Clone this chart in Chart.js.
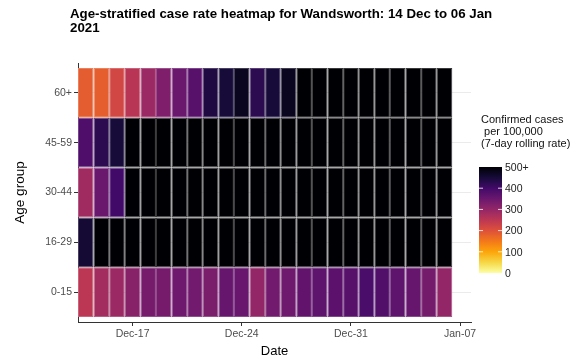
<!DOCTYPE html>
<html>
<head>
<meta charset="utf-8">
<script src="https://cdn.jsdelivr.net/npm/chart.js@4.4.1/dist/chart.umd.min.js"></script>
<style>
  body { margin: 0; background: #fff; }
  #wrap { width: 586px; height: 362px; }
</style>
</head>
<body>
<div id="wrap"><canvas id="heat" width="586" height="362"></canvas></div>
<script>
// days shown, one tile per day
var dates = ['14 Dec','15 Dec','16 Dec','17 Dec','18 Dec','19 Dec','20 Dec','21 Dec','22 Dec','23 Dec','24 Dec','25 Dec',
             '26 Dec','27 Dec','28 Dec','29 Dec','30 Dec','31 Dec','01 Jan','02 Jan','03 Jan','04 Jan','05 Jan','06 Jan'];
var ageGroups = ['0-15', '16-29', '30-44', '45-59', '60+'];
var xTickLabels = ['Dec-17', 'Dec-24', 'Dec-31', 'Jan-07'];
var xTickDays = [3, 10, 17, 24];   // days after 14 Dec
var legendBreaks = [0, 100, 200, 300, 400, 500];
var legendLabels = ['0', '100', '200', '300', '400', '500+'];

// confirmed cases per 100,000, 7-day rolling rate (500 = 500+)
var rate0to15  = [250, 280, 290, 315, 335, 335, 345, 340, 330, 355, 352, 300,
                  340, 345, 360, 365, 368, 372, 390, 380, 365, 355, 338, 300];
var rate16to29 = [455, 500, 500, 500, 500, 500, 500, 500, 500, 500, 500, 500,
                  500, 500, 500, 500, 500, 500, 500, 500, 500, 500, 500, 500];
var rate30to44 = [285, 350, 400, 500, 500, 500, 500, 500, 500, 500, 500, 500,
                  500, 500, 500, 500, 500, 500, 500, 500, 500, 500, 500, 500];
var rate45to59 = [385, 425, 450, 500, 500, 500, 500, 500, 500, 500, 500, 500,
                  500, 500, 500, 500, 500, 500, 500, 500, 500, 500, 500, 500];
var rate60plus = [185, 182, 220, 255, 290, 325, 350, 372, 440, 450, 475, 425,
                  450, 475, 500, 500, 500, 500, 500, 500, 500, 500, 500, 500];

var rows = [rate0to15, rate16to29, rate30to44, rate45to59, rate60plus];

// inferno palette, reversed so that 0 is pale yellow and 500+ is black
var infernoStops = ['#000004','#160b39','#420a68','#6a176e','#932667','#bc3754',
                    '#dd513a','#f37819','#fca50a','#f6d746','#fcffa4'];

function hexRgb(h) {
  return [parseInt(h.substr(1,2),16), parseInt(h.substr(3,2),16), parseInt(h.substr(5,2),16)];
}
function rateRgb(v) {
  var t = 1 - Math.min(Math.max(v, 0), 500) / 500;
  var p = t * 10;
  var i = Math.min(Math.floor(p), 9);
  var f = p - i;
  var a = hexRgb(infernoStops[i]), b = hexRgb(infernoStops[i + 1]);
  return a.map(function (x, k) { return x + (b[k] - x) * f; });
}
function rateColour(v) {
  return 'rgb(' + rateRgb(v).map(Math.round).join(',') + ')';
}
// tile outline: tile colour washed with white
function edgeColour(v) {
  return 'rgb(' + rateRgb(v).map(function (x) { return Math.round(x + (255 - x) * 0.22); }).join(',') + ')';
}

var cells = [];
rows.forEach(function (arr, r) {
  arr.forEach(function (v, d) {
    cells.push({ x: [d, d + 1], y: r, v: v, date: dates[d] });
  });
});

var font = '"Liberation Sans", Arial, sans-serif';
Chart.defaults.font.family = font;

var extras = {
  id: 'extras',
  afterDraw: function (chart) {
    var ctx = chart.ctx;
    ctx.save();
    ctx.fillStyle = '#000';
    ctx.textAlign = 'left';
    ctx.textBaseline = 'alphabetic';
    ctx.font = 'bold 13.3px ' + font;
    ctx.fillText('Age-stratified case rate heatmap for Wandsworth: 14 Dec to 06 Jan', 70, 18);
    ctx.fillText('2021', 70, 32);

    // colourbar legend
    ctx.font = '11px ' + font;
    ctx.fillStyle = '#111';
    ctx.fillText('Confirmed cases', 481, 122.5);
    ctx.fillText(' per 100,000', 481, 134.5);
    ctx.fillText(' (7-day rolling rate)', 478, 146.5);

    var barX = 479, barW = 23, barTop = 167, barBot = 273;
    var grad = ctx.createLinearGradient(0, barBot, 0, barTop);
    for (var s = 0; s <= 20; s++) grad.addColorStop(s / 20, rateColour(s * 25));
    ctx.fillStyle = grad;
    ctx.fillRect(barX, barTop, barW, barBot - barTop);

    ctx.strokeStyle = 'rgba(255,255,255,0.8)';
    ctx.lineWidth = 1;
    ctx.font = '10.5px ' + font;
    ctx.textBaseline = 'middle';
    legendBreaks.forEach(function (b, k) {
      var y = barBot - (b / 500) * (barBot - barTop);
      if (b > 0 && b < 500) {
        ctx.beginPath();
        ctx.moveTo(barX, y); ctx.lineTo(barX + 4, y);
        ctx.moveTo(barX + barW - 4, y); ctx.lineTo(barX + barW, y);
        ctx.stroke();
      }
      ctx.fillStyle = '#222';
      ctx.fillText(legendLabels[k], 505, y + 1);
    });
    ctx.restore();
  }
};

new Chart(document.getElementById('heat'), {
  type: 'bar',
  data: {
    datasets: [{
      data: cells,
      backgroundColor: function (c) { return rateColour(c.raw ? c.raw.v : 0); },
      borderColor: function (c) { return edgeColour(c.raw ? c.raw.v : 0); },
      borderWidth: 1,
      borderSkipped: false,
      inflateAmount: 0,
      categoryPercentage: 1,
      barPercentage: 1
    }]
  },
  options: {
    indexAxis: 'y',
    responsive: false,
    animation: false,
    layout: { padding: { left: 0, right: 115, top: 63, bottom: 0 } },
    plugins: { legend: { display: false }, tooltip: { enabled: false } },
    scales: {
      x: {
        type: 'linear',
        offset: false,
        min: 0,
        max: 25.2,
        afterBuildTicks: function (scale) {
          scale.ticks = xTickDays.map(function (d) { return { value: d + 0.5 }; });
        },
        afterFit: function (scale) { scale.height = 40; },
        ticks: {
          callback: function (v, i) { return xTickLabels[i]; },
          color: '#4d4d4d',
          font: { size: 10.5 },
          padding: 2,
          maxRotation: 0,
          autoSkip: false
        },
        grid: { offset: false, drawOnChartArea: false, tickColor: '#333', tickLength: 4 },
        border: { display: true, color: '#333', width: 1 },
        title: { display: true, text: 'Date', color: '#000', font: { size: 13 }, padding: { top: 0, bottom: 3 } }
      },
      y: {
        type: 'linear',
        offset: false,
        min: -0.6,
        max: 4.6,
        afterBuildTicks: function (scale) {
          scale.ticks = ageGroups.map(function (g, i) { return { value: i }; });
        },
        afterFit: function (scale) { scale.width = 78; },
        ticks: {
          callback: function (v, i) { return ageGroups[i]; },
          color: '#4d4d4d',
          font: { size: 10.5 },
          padding: 2
        },
        grid: { offset: false, color: '#ebebeb', lineWidth: 1, tickColor: '#333', tickLength: 4 },
        border: { display: true, color: '#333', width: 1 },
        title: { display: true, text: 'Age group', color: '#000', font: { size: 13.5 }, padding: { top: 12, bottom: 0 } }
      }
    }
  },
  plugins: [extras]
});
</script>
</body>
</html>
